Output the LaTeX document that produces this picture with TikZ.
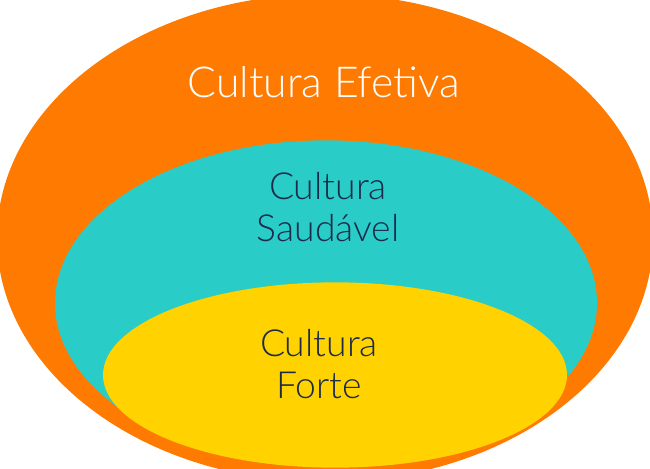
\documentclass[tikz,border=0pt]{standalone}
\usepackage{fontspec}
\setmainfont{Lato Light}
\usetikzlibrary{shapes.geometric}
\definecolor{efetiva}{HTML}{FF7A00}
\definecolor{saudavel}{HTML}{2ACCC7}
\definecolor{forte}{HTML}{FFD200}
\definecolor{tinta}{HTML}{1C2B4A}

\begin{document}
\begin{tikzpicture}[x=0.75pt,y=-0.75pt]
  \tikzstyle{every node}=[inner sep=0pt,outer sep=0pt]
  \tikzstyle{ring}=[ellipse,draw=none]
  \tikzstyle{rotulo}=[anchor=base,align=center,text=tinta,font=\fontsize{28}{31}\selectfont]

  \useasboundingbox (0,0) rectangle (650,468);

  \node[ring,fill=efetiva,minimum width=492pt,minimum height=366pt]  (E) at (325,238) {};
  \node[ring,fill=saudavel,minimum width=406.5pt,minimum height=244pt] (S) at (326,303) {};
  \node[ring,fill=forte,minimum width=348pt,minimum height=139pt]     (F) at (335,375) {};

  \node[rotulo,text=white,font=\fontsize{32}{34}\selectfont] (tE) at (324,97) {Cultura Efetiva};
  \node[rotulo] (tS) at (328,241) {Cultura\\Saudável};
  \node[rotulo] (tF) at (319,398) {Cultura\\Forte};
\end{tikzpicture}
\end{document}
